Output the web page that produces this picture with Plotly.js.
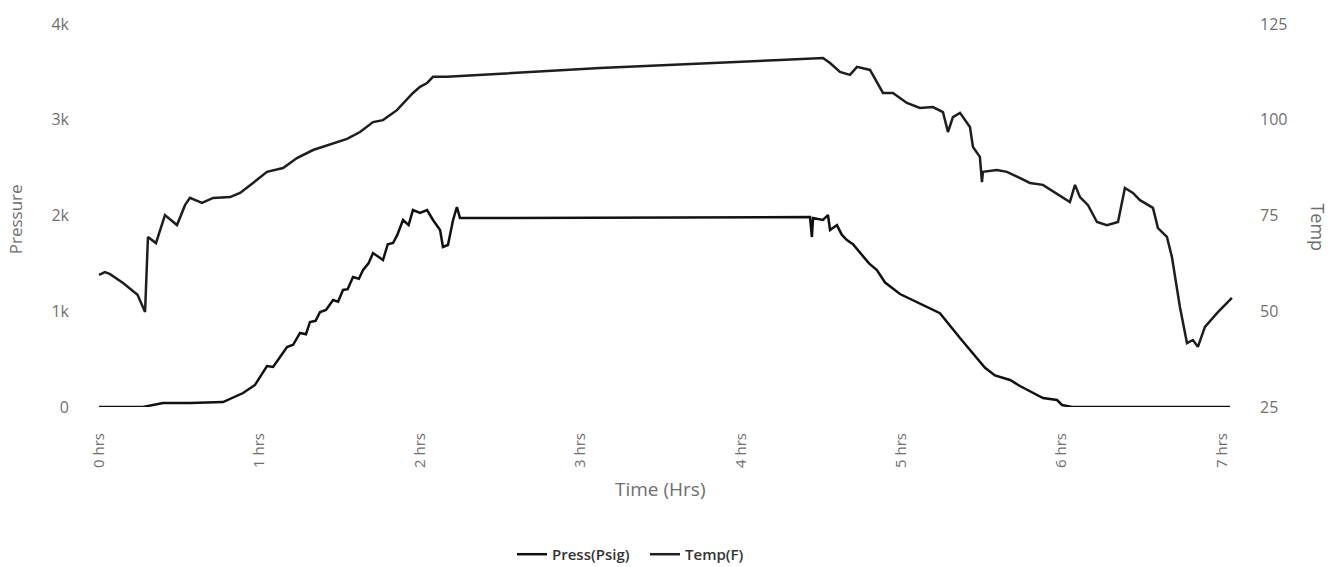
<!DOCTYPE html>
<html>
<head>
<meta charset="utf-8">
<script src="https://cdn.plot.ly/plotly-3.0.1.min.js"></script>
<style>html,body{margin:0;padding:0;background:#fff;}#chart{width:1332px;height:567px;}</style>
</head>
<body>
<div id="chart"></div>
<script>
// Time axis ticks
const tickHours = [0, 1, 2, 3, 4, 5, 6, 7];
const tickLabels = ["0 hrs", "1 hrs", "2 hrs", "3 hrs", "4 hrs", "5 hrs", "6 hrs", "7 hrs"];

// Press(Psig) series
const pressTime = [0, 0.274, 0.399, 0.567, 0.773, 0.898, 0.972, 1.047, 1.085, 1.172, 1.21, 1.253, 1.29, 1.315, 1.35, 1.378, 1.415, 1.459, 1.49, 1.521, 1.55, 1.583, 1.62, 1.646, 1.68, 1.708, 1.770, 1.80, 1.833, 1.86, 1.895, 1.93, 1.957, 2.001, 2.045, 2.082, 2.126, 2.144, 2.175, 2.207, 2.231, 2.250, 2.375, 4.432, 4.444, 4.451, 4.513, 4.544, 4.557, 4.60, 4.63, 4.662, 4.70, 4.756, 4.80, 4.849, 4.90, 4.993, 5.117, 5.242, 5.367, 5.523, 5.585, 5.679, 5.741, 5.884, 5.972, 6.003, 6.065, 6.42, 7.05];
const pressVal = [0, 0, 42, 42, 52, 146, 230, 428, 418, 627, 650, 773, 760, 888, 900, 992, 1013, 1118, 1100, 1222, 1230, 1358, 1340, 1431, 1500, 1608, 1535, 1700, 1713, 1800, 1953, 1900, 2057, 2026, 2057, 1953, 1849, 1671, 1692, 1953, 2089, 1974, 1974, 1984, 1775, 1974, 1953, 2005, 1849, 1900, 1800, 1744, 1700, 1587, 1500, 1431, 1300, 1180, 1080, 980, 720, 410, 330, 282, 219, 94, 73, 21, 0, 0, 0];

// Temp(F) series
const tempTime = [0, 0.037, 0.069, 0.15, 0.24, 0.287, 0.305, 0.355, 0.411, 0.486, 0.536, 0.567, 0.642, 0.711, 0.817, 0.879, 0.960, 1.047, 1.147, 1.234, 1.334, 1.459, 1.546, 1.627, 1.708, 1.770, 1.857, 1.957, 2.001, 2.045, 2.082, 2.169, 3.123, 4.245, 4.513, 4.557, 4.619, 4.681, 4.725, 4.806, 4.849, 4.887, 4.949, 5.036, 5.117, 5.198, 5.261, 5.292, 5.323, 5.367, 5.429, 5.448, 5.491, 5.504, 5.510, 5.597, 5.660, 5.803, 5.884, 6.052, 6.084, 6.115, 6.165, 6.221, 6.283, 6.352, 6.395, 6.445, 6.489, 6.570, 6.601, 6.657, 6.688, 6.738, 6.782, 6.819, 6.850, 6.894, 6.969, 7.062];
const tempVal = [59.5, 60.2, 59.7, 57.4, 54.3, 49.8, 69.4, 67.8, 75.1, 72.5, 77.7, 79.6, 78.3, 79.6, 79.8, 80.9, 83.5, 86.4, 87.4, 90.0, 92.1, 93.9, 95.0, 96.8, 99.4, 99.9, 102.5, 107.0, 108.6, 109.6, 111.2, 111.2, 113.5, 115.6, 116.1, 114.8, 112.5, 111.7, 113.8, 113.0, 109.6, 107.0, 107.0, 104.4, 103.1, 103.3, 102.0, 96.8, 100.7, 101.8, 98.1, 92.9, 90.3, 83.7, 86.4, 86.9, 86.4, 83.5, 83.0, 78.5, 83.0, 79.8, 77.7, 73.3, 72.5, 73.3, 82.2, 80.9, 79.0, 77.0, 71.7, 69.4, 64.2, 51.1, 41.7, 42.5, 40.7, 45.9, 49.5, 53.5];

const xTickFont = {family: "Open Sans, sans-serif", size: 15, color: "#6f6f6f"};
const yTickFont = {family: "Open Sans, sans-serif", size: 16, color: "#6f6f6f"};
const titleFont = {family: "Open Sans, sans-serif", size: 17, color: "#6e6e6e"};
const xTitleFont = {family: "Open Sans, sans-serif", size: 19, color: "#6e6e6e"};

const traces = [
  {x: pressTime, y: pressVal, type: "scatter", mode: "lines", name: "Press(Psig)",
   line: {color: "#111111", width: 2.5}, yaxis: "y"},
  {x: tempTime, y: tempVal, type: "scatter", mode: "lines", name: "Temp(F)",
   line: {color: "#1e1e1e", width: 2.5}, yaxis: "y2"}
];

const layout = {
  width: 1332, height: 567,
  margin: {l: 74, r: 77, t: 24, b: 160, autoexpand: false},
  paper_bgcolor: "#ffffff", plot_bgcolor: "#ffffff",
  showlegend: true,
  legend: {orientation: "h", x: 0.4835, xanchor: "center", y: -0.385, yanchor: "middle",
           entrywidth: 88, itemwidth: 30,
           font: {family: "Open Sans, sans-serif", size: 15, color: "#333333", weight: 600}},
  xaxis: {range: [-0.156, 7.206], tickvals: tickHours, ticktext: tickLabels, tickangle: -90,
          ticklabelstandoff: 22, automargin: false,
          showgrid: false, zeroline: false, showline: false, ticks: "", tickfont: xTickFont},
  yaxis: {range: [0, 4000], tickvals: [0, 1000, 2000, 3000, 4000], ticktext: ["0", "1k", "2k", "3k", "4k"],
          ticklabelstandoff: 4, automargin: false,
          showgrid: false, zeroline: false, showline: false, ticks: "", tickfont: yTickFont},
  yaxis2: {range: [25, 125], overlaying: "y", side: "right", tickvals: [25, 50, 75, 100, 125],
           ticklabelstandoff: 4, automargin: false,
           showgrid: false, zeroline: false, showline: false, ticks: "", tickfont: yTickFont},
  annotations: [
    {text: "Pressure", xref: "paper", yref: "paper", x: -0.05, y: 0.49, textangle: -90,
     showarrow: false, xanchor: "center", yanchor: "middle", font: titleFont},
    {text: "Temp", xref: "paper", yref: "paper", x: 1.053, y: 0.47, textangle: 90,
     showarrow: false, xanchor: "center", yanchor: "middle", font: {family: "Open Sans, sans-serif", size: 18, color: "#6e6e6e"}},
    {text: "Time (Hrs)", xref: "paper", yref: "paper", x: 0.497, y: -0.215,
     showarrow: false, xanchor: "center", yanchor: "middle", font: xTitleFont}
  ]
};

Plotly.newPlot("chart", traces, layout, {displayModeBar: false, staticPlot: true});
</script>
</body>
</html>
